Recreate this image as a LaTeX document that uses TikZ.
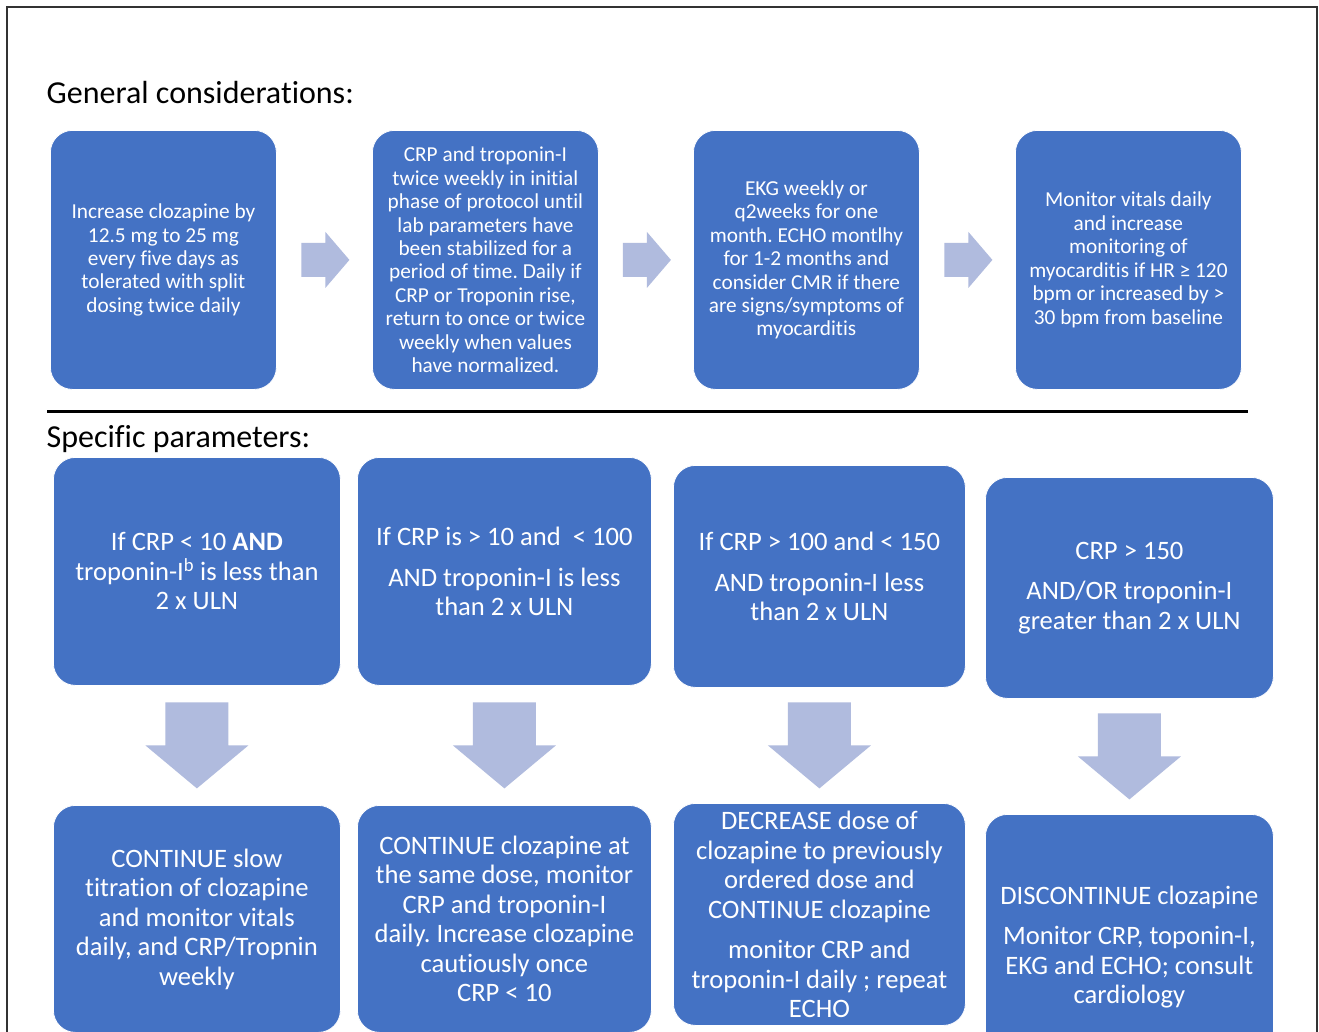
\documentclass[tikz,border=0pt]{standalone}
\usepackage{fontspec}
\setmainfont{Carlito}[Ligatures={TeX,NoCommon}]
\usetikzlibrary{calc}
\definecolor{boxblue}{HTML}{4472C4}
\definecolor{arrowfill}{HTML}{B0BBDE}
\definecolor{framegray}{HTML}{333333}
\frenchspacing
\tikzset{
  box/.style={rectangle, rounded corners=22pt, fill=boxblue, draw=white, line width=0.8pt,
    text=white, align=center, inner sep=0pt, anchor=north west},
  topbox/.style={box, minimum width=226pt, minimum height=259pt,
    font=\fontsize{21.3pt}{23.45pt}\selectfont},
  botbox/.style={box, font=\fontsize{26.6pt}{29.5pt}\selectfont},
  heading/.style={anchor=base west, inner sep=0pt, font=\fontsize{32pt}{38pt}\selectfont},
  rarrow/.pic={\fill[arrowfill] (-24,-17) -- (0,-17) -- (0,-28) -- (24,0) -- (0,28) -- (0,17) -- (-24,17) -- cycle;},
  darrow/.pic={\fill[arrowfill] (-31.5,-43) -- (31.5,-43) -- (31.5,0) -- (51.5,0) -- (0,43) -- (-51.5,0) -- (-31.5,0) -- cycle;},
}
\begin{document}
\begin{tikzpicture}[x=1pt, y=-1pt]
\useasboundingbox (0,0) rectangle (1319,1031);
\clip (0,0) rectangle (1319,1031);
\fill[white] (0,0) rectangle (1319,1031);
% frame
\coordinate (fbl) at (7,1100);
\coordinate (ftl) at (7,7);
\coordinate (ftr) at (1317,7);
\coordinate (fbr) at (1317,1100);
\draw[framegray, line width=2pt] (fbl) -- (ftl) -- (ftr) -- (fbr);

\node[heading] (gen) at (46.5,103) {General considerations:};
\node[heading] (spec) at (46.5,447) {Specific parameters:};

\coordinate (rl) at (47,411);
\coordinate (rr) at (1248,411);
\draw[black, line width=3pt] (rl) -- (rr);

% top row
\node[topbox] (b1) at (50,130) {Increase clozapine by\\12.5 mg to 25 mg\\every five days as\\tolerated with split\\dosing twice daily};
\node[topbox] (b2) at (372,130) {CRP and troponin-I\\twice weekly in initial\\phase of protocol until\\lab parameters have\\been stabilized for a\\period of time. Daily if\\CRP or Troponin rise,\\return to once or twice\\weekly when values\\have normalized.};
\node[topbox] (b3) at (693,130) {EKG weekly or\\q2weeks for one\\month. ECHO montlhy\\for 1-2 months and\\consider CMR if there\\are signs/symptoms of\\myocarditis};
\node[topbox] (b4) at (1015,130) {Monitor vitals daily\\and increase\\monitoring of\\myocarditis if HR ≥ 120\\bpm or increased by >\\30 bpm from baseline};

\pic at ($(b1.east)!0.5!(b2.west)+(1,0)$) {rarrow};
\pic at ($(b2.east)!0.5!(b3.west)+(1,0)$) {rarrow};
\pic at ($(b3.east)!0.5!(b4.west)+(1,0)$) {rarrow};

% condition row
\node[botbox, minimum width=287pt, minimum height=228pt] (c1) at (53,457) {If CRP < 10 \textbf{AND}\\troponin-I\textsuperscript{b} is less than\\2 x ULN};
\node[botbox, minimum width=294pt, minimum height=228pt] (c2) at (357,457) {If CRP is > 10 and\ \ < 100\\[11.5pt]AND troponin-I is less\\than 2 x ULN};
\node[botbox, minimum width=292pt, minimum height=222pt] (c3) at (673,465) {If CRP > 100 and < 150\\[11pt]AND troponin-I less\\than 2 x ULN};
\node[botbox, minimum width=288pt, minimum height=221pt] (c4) at (985,477) {CRP > 150\\[11pt]AND/OR troponin-I\\greater than 2 x ULN};

% action row
\node[botbox, minimum width=287pt, minimum height=227pt] (d1) at (53,805) {CONTINUE slow\\titration of clozapine\\and monitor vitals\\daily, and CRP/Tropnin\\weekly};
\node[botbox, minimum width=294pt, minimum height=227pt] (d2) at (357,805) {CONTINUE clozapine at\\the same dose, monitor\\CRP and troponin-I\\daily. Increase clozapine\\cautiously once\\CRP < 10};
\node[botbox, minimum width=292pt, minimum height=222pt] (d3) at (673,803) {DECREASE dose of\\clozapine to previously\\ordered dose and\\CONTINUE clozapine\\[11pt]monitor CRP and\\troponin-I daily ; repeat\\ECHO};
\node[botbox, minimum width=288pt, minimum height=265pt] (d4) at (985,814) {DISCONTINUE clozapine\\[11pt]Monitor CRP, toponin-I,\\EKG and ECHO; consult\\cardiology};

\pic at ($(c1.south)!0.5!(d1.north)$) {darrow};
\pic at ($(c2.south)!0.5!(d2.north)$) {darrow};
\pic at ($(c3.south)!0.5!(d3.north)$) {darrow};
\pic at ($(c4.south)!0.5!(d4.north)$) {darrow};
\end{tikzpicture}
\end{document}
